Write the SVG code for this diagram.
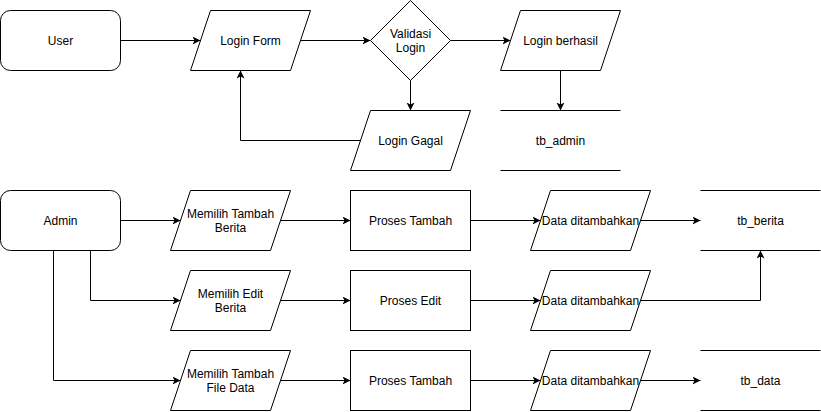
<svg xmlns="http://www.w3.org/2000/svg" width="821" height="412" viewBox="0 0 821 412">
<defs>
<marker id="arr" markerWidth="10" markerHeight="10" refX="8" refY="4" orient="auto" markerUnits="userSpaceOnUse">
<path d="M0,0 L8,4 L0,8 L2,4 Z" fill="#000"/>
</marker>
<style>
.s{fill:#fff;stroke:#000;stroke-width:1}
.l{fill:none;stroke:#000;stroke-width:1}
.c{fill:none;stroke:#000;stroke-width:1;marker-end:url(#arr)}
text{font-family:"Liberation Sans",Arial,sans-serif;font-size:12px;fill:#000;text-anchor:middle;dominant-baseline:central}
</style>
</defs>
<rect width="821" height="412" fill="#fff"/>
<g transform="translate(0.5,0.5)">
<g id="connectors">
<path class="c" d="M120,40 L200,40"/>
<path class="c" d="M300,40 L370,40"/>
<path class="c" d="M450,40 L510,40"/>
<path class="c" d="M560,70 L560,110"/>
<path class="c" d="M410,80 L410,110"/>
<path class="c" d="M360,140 L240,140 L240,70"/>
<path class="c" d="M120,220 L180,220"/>
<path class="c" d="M90,250 L90,300 L180,300"/>
<path class="c" d="M53,250 L53,380 L180,380"/>
<path class="c" d="M280,220 L350,220"/>
<path class="c" d="M280,300 L350,300"/>
<path class="c" d="M280,380 L350,380"/>
<path class="c" d="M470,220 L540,220"/>
<path class="c" d="M470,300 L540,300"/>
<path class="c" d="M470,380 L540,380"/>
<path class="c" d="M640,220 L700,220"/>
<path class="c" d="M640,300 L760,300 L760,250"/>
<path class="c" d="M640,380 L700,380"/>
</g>
<g id="user"><rect class="s" x="0" y="10" width="120" height="60" rx="10"/><text x="60" y="40">User</text></g>
<g id="login-form"><polygon class="s" points="210,10 310,10 290,70 190,70"/><text x="250" y="40">Login Form</text></g>
<g id="validasi"><polygon class="s" points="410,0 450,40 410,80 370,40"/><text x="410" y="33">Validasi</text><text x="410" y="47">Login</text></g>
<g id="login-berhasil"><polygon class="s" points="520,10 620,10 600,70 500,70"/><text x="560" y="40">Login berhasil</text></g>
<g id="login-gagal"><polygon class="s" points="370,110 470,110 450,170 350,170"/><text x="410" y="140">Login Gagal</text></g>
<g id="tb-admin"><path class="l" d="M500,110 L620,110 M500,170 L620,170"/><text x="560" y="140">tb_admin</text></g>
<g id="admin"><rect class="s" x="0" y="190" width="120" height="60" rx="10"/><text x="60" y="220">Admin</text></g>
<g id="pilih-tambah-berita"><polygon class="s" points="190,190 290,190 270,250 170,250"/><text x="230" y="213">Memilih Tambah</text><text x="230" y="227">Berita</text></g>
<g id="pilih-edit-berita"><polygon class="s" points="190,270 290,270 270,330 170,330"/><text x="230" y="293">Memilih Edit</text><text x="230" y="307">Berita</text></g>
<g id="pilih-tambah-file"><polygon class="s" points="190,350 290,350 270,410 170,410"/><text x="230" y="373">Memilih Tambah</text><text x="230" y="387">File Data</text></g>
<g id="proses-tambah-1"><rect class="s" x="350" y="190" width="120" height="60"/><text x="410" y="220">Proses Tambah</text></g>
<g id="proses-edit"><rect class="s" x="350" y="270" width="120" height="60"/><text x="410" y="300">Proses Edit</text></g>
<g id="proses-tambah-2"><rect class="s" x="350" y="350" width="120" height="60"/><text x="410" y="380">Proses Tambah</text></g>
<g id="data-1"><polygon class="s" points="550,190 650,190 630,250 530,250"/><text x="590" y="220">Data ditambahkan</text></g>
<g id="data-2"><polygon class="s" points="550,270 650,270 630,330 530,330"/><text x="590" y="300">Data ditambahkan</text></g>
<g id="data-3"><polygon class="s" points="550,350 650,350 630,410 530,410"/><text x="590" y="380">Data ditambahkan</text></g>
<g id="tb-berita"><path class="l" d="M700,190 L820,190 M700,250 L820,250"/><text x="760" y="220">tb_berita</text></g>
<g id="tb-data"><path class="l" d="M700,350 L820,350 M700,410 L820,410"/><text x="760" y="380">tb_data</text></g>
</g>
</svg>
